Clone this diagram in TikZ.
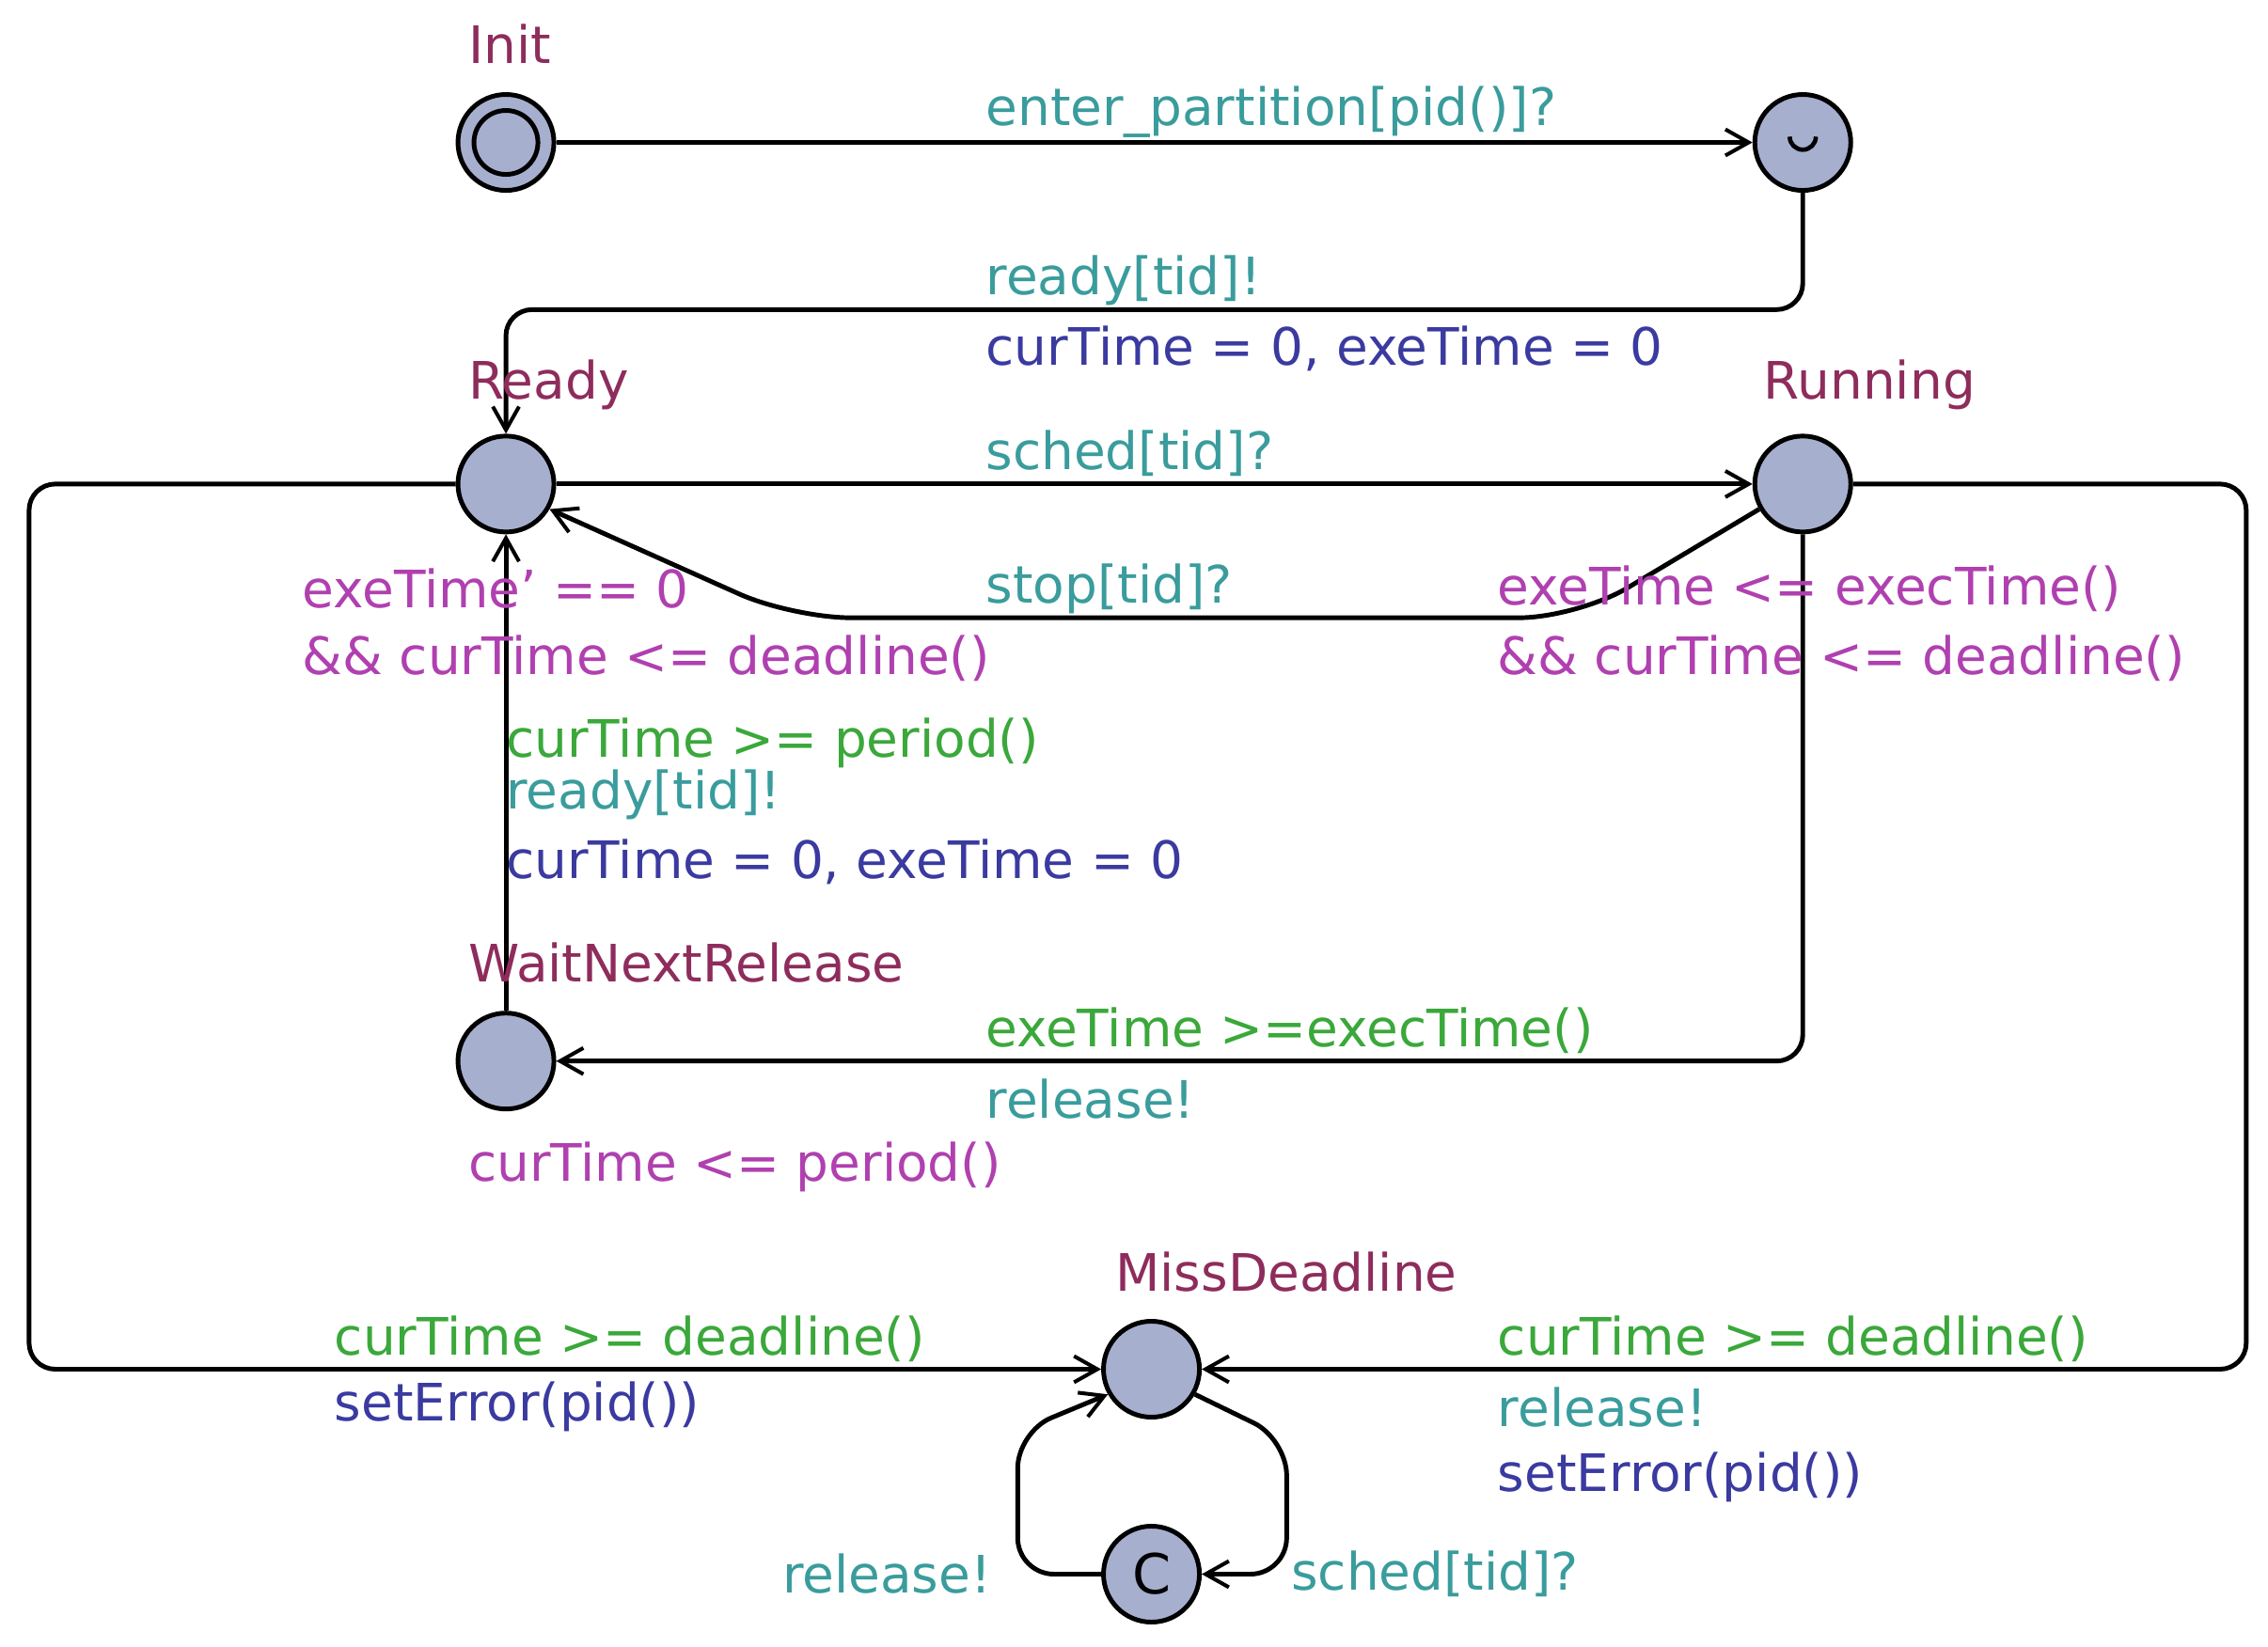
\documentclass[tikz,border=0pt]{standalone}
\usepackage{fontspec}
\setmainfont{DejaVu Sans}
\usetikzlibrary{arrows.meta}
\definecolor{locname}{HTML}{8E2C5C}
\definecolor{sync}{HTML}{3A9C9C}
\definecolor{guard}{HTML}{3AA83A}
\definecolor{upd}{HTML}{3A3AA0}
\definecolor{inv}{HTML}{B040B0}
\definecolor{locfill}{HTML}{A7AFCF}
\begin{document}
\begin{tikzpicture}[x=1pt,y=-1pt,
  loc/.style={circle,draw=black,line width=3.2pt,fill=locfill,minimum size=66pt,inner sep=0pt},
  edge/.style={draw=black,line width=3.2pt,rounded corners=18pt,-{Straight Barb[length=16pt,width=18pt,line width=2.6pt]}},
  lbl/.style={anchor=west,inner sep=0pt,font=\fontsize{35.5}{40}\selectfont},
  nm/.style={lbl,text=locname},
  sy/.style={lbl,text=sync},
  gd/.style={lbl,text=guard},
  up/.style={lbl,text=upd},
  iv/.style={lbl,text=inv}]
\useasboundingbox (0,0) rectangle (1560,1133);
\node[loc] (init) at (348,98) {};
\node[circle,draw=black,line width=3.2pt,minimum size=44pt] (initin) at (348,98) {};
\node[loc] (urg) at (1240,98) {};
\node[loc] (ready) at (348,333) {};
\node[loc] (run) at (1240,333) {};
\node[loc] (wait) at (348,730) {};
\node[loc] (miss) at (792,942) {};
\node[loc] (com) at (792,1083) {};
% urgent and committed marks
\draw[line width=3pt] (1231,94) arc (180:0:9);
\node[font=\fontsize{38}{40}\selectfont] (cmark) at (792,1083) {C};
% edges
\coordinate (a1) at (1240,213); \coordinate (a2) at (348,213);
\draw[edge] (init) -- (urg);
\draw[edge] (urg) -- (a1) -- (a2) -- (ready);
\draw[edge] (ready) -- (run);
\coordinate (b1) at (1085,425); \coordinate (b2) at (545,425);
\draw[edge,rounded corners=40pt] (run.210) -- (b1) -- (b2) -- (ready.-30);
\coordinate (c1) at (1240,730);
\draw[edge] (run) -- (c1) -- (wait);
\draw[edge] (wait) -- (ready);
\coordinate (d1) at (20,333); \coordinate (d2) at (20,942);
\draw[edge] (ready) -- (d1) -- (d2) -- (miss);
\coordinate (e1) at (1545,333); \coordinate (e2) at (1545,942);
\draw[edge] (run) -- (e1) -- (e2) -- (miss);
\coordinate (f1) at (885,990); \coordinate (f2) at (885,1083);
\draw[edge,rounded corners=25pt] (miss.-30) -- (f1) -- (f2) -- (com);
\coordinate (g1) at (700,1083); \coordinate (g2) at (700,985);
\draw[edge,rounded corners=25pt] (com) -- (g1) -- (g2) -- (miss.210);
% labels
\node[nm] (l1) at (322,30) {Init};
\node[sy] (l2) at (678,77) {enter\_partition[pid()]?};
\node[sy] (l3) at (678,193) {ready[tid]!};
\node[up] (l4) at (678,240) {curTime = 0, exeTime = 0};
\node[nm] (l5) at (322,265) {Ready};
\node[nm] (l6) at (1213,265) {Running};
\node[sy] (l7) at (678,312) {sched[tid]?};
\node[iv] (l8) at (208,405) {exeTime' == 0};
\node[iv] (l9) at (208,453) {\&\& curTime <= deadline()};
\node[sy] (l10) at (678,405) {stop[tid]?};
\node[iv] (l11) at (1030,405) {exeTime <= execTime()};
\node[iv] (l12) at (1030,453) {\&\& curTime <= deadline()};
\node[gd] (l13) at (348,511) {curTime >= period()};
\node[sy] (l14) at (348,547) {ready[tid]!};
\node[up] (l15) at (348,593) {curTime = 0, exeTime = 0};
\node[nm] (l16) at (322,662) {WaitNextRelease};
\node[gd] (l17) at (678,709) {exeTime >=execTime()};
\node[sy] (l18) at (678,756) {release!};
\node[iv] (l19) at (322,803) {curTime <= period()};
\node[nm] (l20) at (767,875) {MissDeadline};
\node[gd] (l21) at (230,921) {curTime >= deadline()};
\node[up] (l22) at (230,968) {setError(pid())};
\node[gd] (l23) at (1030,921) {curTime >= deadline()};
\node[sy] (l24) at (1030,968) {release!};
\node[up] (l25) at (1030,1016) {setError(pid())};
\node[sy] (l26) at (538,1083) {release!};
\node[sy] (l27) at (888,1083) {sched[tid]?};
\end{tikzpicture}
\end{document}
